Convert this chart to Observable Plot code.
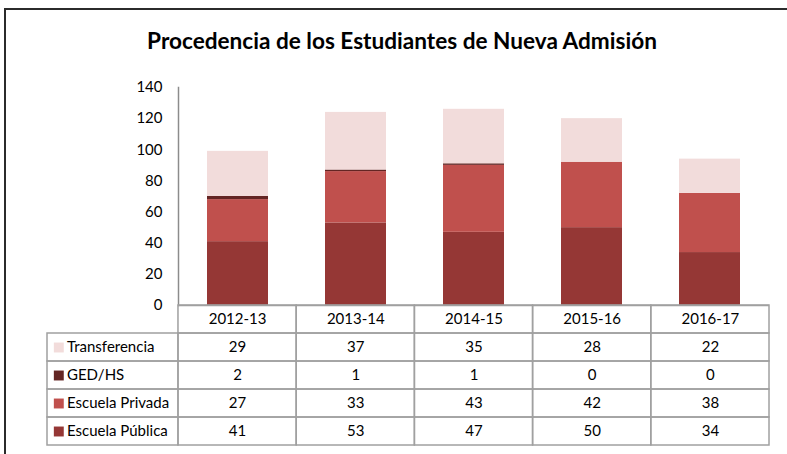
<!DOCTYPE html>
<html><head><meta charset="utf-8">
<script src="https://cdn.jsdelivr.net/npm/d3@7"></script>
<script src="https://cdn.jsdelivr.net/npm/@observablehq/plot@0.6"></script>
<style>
body{margin:0;background:#fff;}
#wrap{position:relative;width:787px;height:454px;overflow:hidden;font-family:Lato,sans-serif;}
#frame{position:absolute;left:4px;top:8px;width:830px;height:490px;border:2px solid #2b2b2b;box-sizing:border-box;}
#title{position:absolute;left:4px;width:796px;top:28px;text-align:center;font-weight:bold;font-size:22.6px;line-height:26px;color:#000;}
#bars,#table{position:absolute;left:0;}
#bars{top:0}
#table{top:304px}
</style></head><body>
<div id="wrap"><div id="bars"></div><div id="table"></div><div id="frame"></div><div id="title">Procedencia de los Estudiantes de Nueva Admisión</div></div>
<script>
const years = ["2012-13","2013-14","2014-15","2015-16","2016-17"];
const series = ["Escuela Pública","Escuela Privada","GED/HS","Transferencia"]; // bottom to top
const publica = [41,53,47,50,34];
const privada = [27,33,43,42,38];
const ged = [2,1,1,0,0];
const transferencia = [29,37,35,28,22];
const colors = ["#953735","#C0504D","#632523","#F2DCDB"];
const yTicks = [0,20,40,60,80,100,120,140];
const tableOrder = ["Transferencia","GED/HS","Escuela Privada","Escuela Pública"];

const valuesBySeries = {"Escuela Pública":publica,"Escuela Privada":privada,"GED/HS":ged,"Transferencia":transferencia};
const rows = years.flatMap((y,i)=>series.map(s=>({year:y, idx:i, series:s, value:valuesBySeries[s][i]})));

const font = {fontFamily:"Lato, sans-serif", fontSize:"15px", color:"#000", background:"none", overflow:"visible"};

const bars = Plot.plot({
  width:787, height:316, marginTop:87, marginBottom:11, marginLeft:178, marginRight:18,
  style:font,
  x:{type:"band", domain:years, paddingInner:0.487, paddingOuter:0.2435, axis:null},
  y:{domain:[0,140], axis:null},
  color:{domain:series, range:colors},
  marks:[
    Plot.barY(rows,{x:"year", y:"value", fill:"series"}),
    Plot.frame({anchor:"left", stroke:"#8c8c8c", strokeWidth:1.5}),
    Plot.ruleY([0],{stroke:"#a0a0a0", strokeWidth:1.5}),
    Plot.axisY(yTicks,{tickSize:0, tickPadding:16, fill:"#000", label:null})
  ]
});
document.getElementById("bars").append(bars);

const labelW = 1.108;
const headerCells = years.map((y,i)=>({row:"header", col:i, text:y}));
const valueCells = tableOrder.flatMap(s=>years.map((y,i)=>({row:s, col:i, text:String(valuesBySeries[s][i])})));
const cells = headerCells.concat(valueCells);

const table = Plot.plot({
  width:787, height:142, marginTop:1, marginBottom:1, marginLeft:47, marginRight:18,
  style:font,
  x:{domain:[-labelW, years.length], axis:null},
  y:{type:"band", domain:["header", ...tableOrder], padding:0, axis:null},
  color:{domain:series, range:colors},
  marks:[
    Plot.barX(cells,{x1:d=>d.col, x2:d=>d.col+1, y:"row", fill:"none", stroke:"#a0a0a0", strokeWidth:1.5}),
    Plot.barX(tableOrder,{x1:()=>-labelW, x2:()=>0, y:d=>d, fill:"none", stroke:"#a0a0a0", strokeWidth:1.5}),
    Plot.text(cells,{x:d=>d.col+0.5, y:"row", text:"text", fill:"#000"}),
    Plot.dot(tableOrder,{x:()=>-labelW, y:d=>d, dx:11.3, symbol:"square", r:5.6, fill:d=>d, stroke:null}),
    Plot.text(tableOrder,{x:()=>-labelW, y:d=>d, dx:19.5, text:d=>d, textAnchor:"start", fill:"#000"})
  ]
});
document.getElementById("table").append(table);
</script>
</body></html>
